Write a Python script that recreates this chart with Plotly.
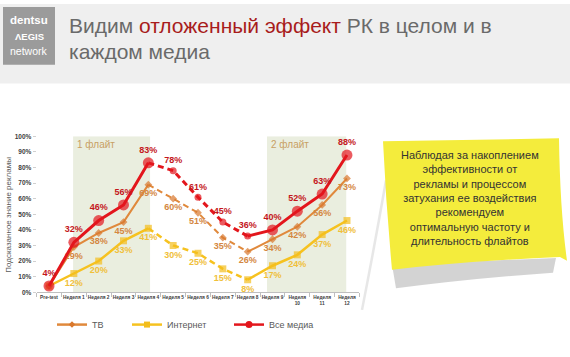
import plotly.graph_objects as go

W, H = 570, 357

categories = ["Pre-test", "Неделя 1", "Неделя 2", "Неделя 3", "Неделя 4", "Неделя 5",
              "Неделя 6", "Неделя 7", "Неделя 8", "Неделя 9", "Неделя<br>10",
              "Неделя<br>11", "Неделя<br>12"]
tv = [4, 29, 38, 45, 69, 60, 51, 35, 26, 34, 42, 56, 73]
internet = [4, 12, 20, 33, 41, 30, 25, 15, 8, 17, 24, 37, 46]
all_media = [4, 32, 46, 56, 83, 78, 61, 45, 36, 40, 52, 63, 88]
y_ticks = [0, 10, 20, 30, 40, 50, 60, 70, 80, 90, 100]
y_tick_labels = ["0%", "10%", "20%", "30%", "40%", "50%", "60%", "70%", "80%", "90%", "100%"]
flights = [("1 флайт", 0.97, 4.07), ("2 флайт", 8.78, 11.97)]
dashed_from, dashed_to = 4, 8


def px(x):
    return x / W


def py(y):
    return 1 - y / H


FONT = "Liberation Sans, Arial, sans-serif"
xs = list(range(len(categories)))

fig = go.Figure()

series = [
    dict(name="Интернет", vals=internet, line="#F6C220", mark="#F3BE1C", lab="#F0C03A",
         sym="square", big=7, small=7, width=2.5, pos="bottom center", legend="legend2", lsize=6),
    dict(name="ТВ", vals=tv, line="#E0893C", mark="#D9782D", lab="#D4873F",
         sym="diamond", big=6, small=6, width=2, pos="bottom center", legend="legend", lsize=5),
    dict(name="Все медиа", vals=all_media, line="#E3161C", mark="#E3161C", lab="#C4161C",
         sym="circle", big=11, small=7, width=3, pos="top center", legend="legend3", lsize=7),
]

for s in series:
    v = s["vals"]
    n = len(v)
    solid_idx = [i for i in range(n) if i <= dashed_from or i >= dashed_to]
    dash_idx = [i for i in range(n) if dashed_from <= i <= dashed_to]
    y_solid = [v[i] if i in solid_idx else None for i in range(n)]
    y_dash = [v[i] if i in dash_idx else None for i in range(n)]
    sizes_solid = []
    for i in range(n):
        if s["name"] == "Все медиа" and i == dashed_to:
            sizes_solid.append(s["small"])
        else:
            sizes_solid.append(s["big"])
    text_solid = [f"{v[i]}%" if (i in solid_idx and not (s["name"] != "Все медиа" and i == 0)) else ""
                  for i in range(n)]
    sizes_dash = [s["small"] if dashed_from < i < dashed_to else 0 for i in range(n)]
    text_dash = [f"{v[i]}%" if dashed_from < i < dashed_to else "" for i in range(n)]

    fig.add_trace(go.Scatter(
        x=xs, y=y_dash, mode="lines+markers+text", showlegend=False,
        line=dict(color=s["line"], width=s["width"], dash="6px,4px"),
        marker=dict(symbol=s["sym"], size=sizes_dash, color=s["mark"], line=dict(width=0)),
        text=text_dash, textposition=s["pos"],
        textfont=dict(family=FONT, size=9, color=s["lab"], weight="bold"),
        hoverinfo="skip", cliponaxis=False,
    ))
    fig.add_trace(go.Scatter(
        x=xs, y=y_solid, mode="lines+markers+text", showlegend=False,
        line=dict(color=s["line"], width=s["width"]),
        marker=dict(symbol=s["sym"], size=sizes_solid, color=s["mark"], line=dict(width=0)),
        text=text_solid, textposition=s["pos"],
        textfont=dict(family=FONT, size=9, color=s["lab"], weight="bold"),
        hoverinfo="skip", cliponaxis=False,
    ))
    fig.add_trace(go.Scatter(
        x=[None], y=[None], mode="lines+markers", name=s["name"], legend=s["legend"],
        line=dict(color=s["line"], width=2.5),
        marker=dict(symbol=s["sym"], size=s["lsize"], color=s["mark"]),
        hoverinfo="skip",
    ))

shapes = []
shapes.append(dict(type="rect", xref="paper", yref="paper", x0=0, x1=1, y0=py(81), y1=1,
                   fillcolor="#EFEFEF", line=dict(width=0), layer="below"))
shapes.append(dict(type="rect", xref="paper", yref="paper", x0=px(3), x1=px(55), y0=py(62), y1=py(3),
                   fillcolor="#9B9B9B", line=dict(width=0), layer="below"))
for _, a, b in flights:
    shapes.append(dict(type="rect", xref="x", yref="y", x0=a, x1=b, y0=0, y1=100,
                       fillcolor="#EAEEDF", line=dict(width=0), layer="below"))


def path(points, close=True):
    d = ""
    for cmd, pts in points:
        d += cmd + " " + " ".join(f"{px(x):.5f},{py(y):.5f}" for x, y in pts) + " "
    if close:
        d += "Z"
    return d


shapes.append(dict(type="path", xref="paper", yref="paper",
                   path=path([("M", [(392, 266)]), ("L", [(556, 259)]), ("L", [(553, 274)]),
                              ("Q", [(470, 280), (396, 290)])]),
                   fillcolor="#C4C4C4", opacity=0.75, line=dict(width=0)))
shapes.append(dict(type="path", xref="paper", yref="paper",
                   path=path([("M", [(386, 180)]), ("Q", [(374, 250), (362, 312)])], close=False),
                   line=dict(color="#D8D8D8", width=2.5), opacity=0.6))
shapes.append(dict(type="path", xref="paper", yref="paper",
                   path=path([("M", [(383, 140)]), ("L", [(559, 137)]),
                              ("Q", [(560, 210), (567, 262)]),
                              ("L", [(560, 258)]),
                              ("Q", [(470, 262), (392, 271)]),
                              ("Q", [(386, 205), (383, 140)])]),
                   fillcolor="#F4EC3C", line=dict(width=0)))

annotations = []
annotations.append(dict(xref="paper", yref="paper", x=px(67), y=py(22), xanchor="left", yanchor="middle",
                        text="Видим <span style='color:#A81C1C'>отложенный эффект</span> РК в целом и в",
                        showarrow=False, font=dict(family=FONT, size=21, color="#6A6A6A")))
annotations.append(dict(xref="paper", yref="paper", x=px(67), y=py(48), xanchor="left", yanchor="middle",
                        text="каждом медиа", showarrow=False,
                        font=dict(family=FONT, size=21, color="#6A6A6A")))
annotations.append(dict(xref="paper", yref="paper", x=px(29), y=py(16), xanchor="center", yanchor="middle",
                        text="<b>dentsu</b>", showarrow=False,
                        font=dict(family=FONT, size=11.5, color="white")))
annotations.append(dict(xref="paper", yref="paper", x=px(29), y=py(33), xanchor="center", yanchor="middle",
                        text="<b>ΛEGIS</b>", showarrow=False,
                        font=dict(family=FONT, size=9.5, color="white")))
annotations.append(dict(xref="paper", yref="paper", x=px(29), y=py(48), xanchor="center", yanchor="middle",
                        text="network", showarrow=False,
                        font=dict(family=FONT, size=10.5, color="white")))
for (label, a, b), xc in zip(flights, [1.9, 9.7]):
    annotations.append(dict(xref="x", yref="y", x=xc, y=95, xanchor="center", yanchor="middle",
                            text=label, showarrow=False,
                            font=dict(family=FONT, size=10, color="#C8A064")))
annotations.append(dict(xref="paper", yref="paper", x=px(9), y=py(215), xanchor="center", yanchor="middle",
                        text="Подсказанное знание рекламы", textangle=-90, showarrow=False,
                        font=dict(family=FONT, size=8, color="#595959")))
annotations.append(dict(xref="paper", yref="paper", x=px(470), y=py(198), xanchor="center", yanchor="middle",
                        text="Наблюдая за накоплением<br>эффективности от<br>рекламы и процессом<br>"
                             "затухания ее воздействия<br>рекомендуем<br>оптимальную частоту и<br>"
                             "длительность флайтов",
                        showarrow=False, align="center",
                        font=dict(family=FONT, size=11, color="#333333")))

legend_common = dict(orientation="h", yanchor="middle", xanchor="left", bgcolor="rgba(0,0,0,0)",
                     font=dict(family=FONT, size=9, color="#595959"), itemsizing="trace",
                     itemwidth=30)

fig.update_layout(
    width=W, height=H, margin=dict(l=0, r=0, t=0, b=0),
    paper_bgcolor="white", plot_bgcolor="rgba(0,0,0,0)",
    shapes=shapes, annotations=annotations,
    xaxis=dict(domain=[px(36.6), px(359.4)], range=[-0.5, 12.5], tickmode="array",
               tickvals=xs, ticktext=categories, tickangle=0, showgrid=False, zeroline=False,
               showline=True, linecolor="#BFBFBF", linewidth=1, ticks="",
               tickfont=dict(family=FONT, size=4.8, color="#404040", weight="bold"),
               minor=dict(tickmode="linear", tick0=-0.5, dtick=1, ticks="outside",
                          ticklen=4, tickcolor="#BFBFBF", showgrid=False)),
    yaxis=dict(domain=[py(294), py(135)], range=[0, 100], tickmode="array", tickvals=y_ticks,
               ticktext=y_tick_labels, showgrid=False, zeroline=False, showline=False,
               ticks="outside", ticklen=3, tickcolor="#D0D0D0",
               tickfont=dict(family=FONT, size=6.5, color="#404040", weight="bold")),
    legend=dict(x=px(52), y=py(327), **legend_common),
    legend2=dict(x=px(127), y=py(327), **legend_common),
    legend3=dict(x=px(229), y=py(327), **legend_common),
)

fig.write_html("out.html", config={"displayModeBar": False},
               post_script="document.body.style.margin='0px';document.body.style.overflow='hidden';")
